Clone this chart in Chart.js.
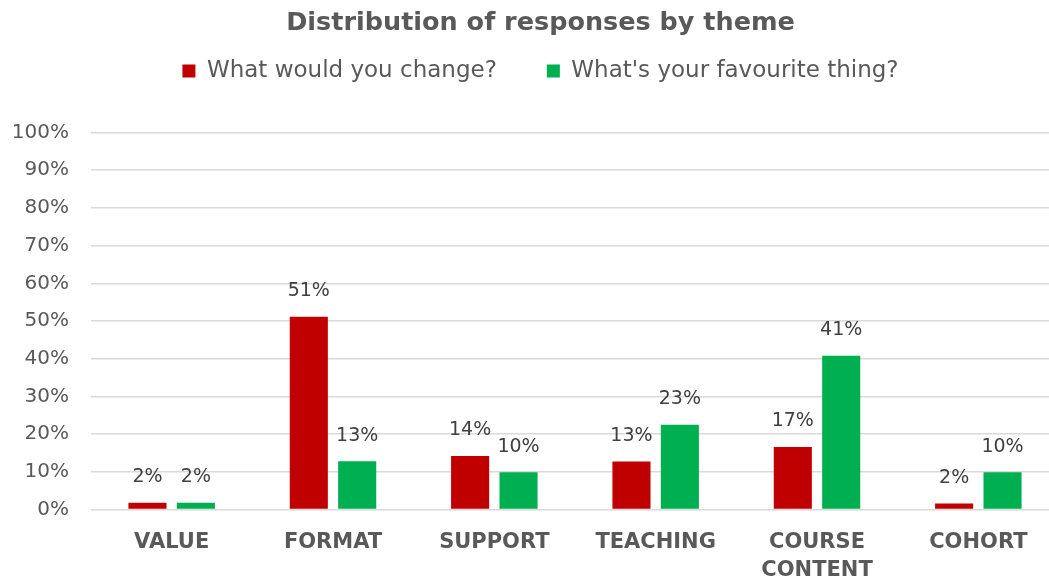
<!DOCTYPE html>
<html>
<head>
<meta charset="utf-8">
<script src="https://cdn.jsdelivr.net/npm/chart.js@4.4.1/dist/chart.umd.min.js"></script>
<style>
  html, body { margin: 0; padding: 0; background: #ffffff; overflow: hidden; }
  #wrap { width: 1081px; height: 579px; }
</style>
</head>
<body>
<div id="wrap"><canvas id="c" width="1081" height="579"></canvas></div>
<script>
const categories = ['VALUE', 'FORMAT', 'SUPPORT', 'TEACHING', ['COURSE', 'CONTENT'], 'COHORT'];
const changeValues = [1.8, 51.1, 14.2, 12.7, 16.6, 1.6];
const favouriteValues = [1.8, 12.8, 9.9, 22.5, 40.8, 9.9];
const yTickLabels = ['0%', '10%', '20%', '30%', '40%', '50%', '60%', '70%', '80%', '90%', '100%'];
const seriesNames = ['What would you change?', "What's your favourite thing?"];

const FONT = "'DejaVu Sans', 'Open Sans', sans-serif";

const valueLabels = {
  id: 'valueLabels',
  afterDatasetsDraw(chart) {
    const ctx = chart.ctx;
    ctx.save();
    ctx.font = '19px ' + FONT;
    ctx.fillStyle = '#404040';
    ctx.textAlign = 'center';
    ctx.textBaseline = 'middle';
    chart.data.datasets.forEach((ds, di) => {
      const meta = chart.getDatasetMeta(di);
      meta.data.forEach((bar, i) => {
        ctx.fillText(Math.round(ds.data[i]) + '%', bar.x, bar.y - 25.5);
      });
    });
    ctx.restore();
  }
};

const legendHeight = {
  id: 'legendHeight',
  afterInit(chart) {
    const lg = chart.legend;
    if (lg && !lg._patched) {
      const orig = lg.fit.bind(lg);
      lg.fit = function () { orig(); this.height = 123; };
      lg._patched = true;
    }
  }
};

new Chart(document.getElementById('c'), {
  type: 'bar',
  data: {
    labels: categories,
    datasets: [
      { label: seriesNames[0], data: changeValues, backgroundColor: '#C00000' },
      { label: seriesNames[1], data: favouriteValues, backgroundColor: '#00B050' }
    ]
  },
  options: {
    responsive: false,
    animation: false,
    categoryPercentage: 0.6,
    barPercentage: 0.787,
    layout: { padding: 0 },
    plugins: {
      title: {
        display: true,
        text: 'Distribution of responses by theme',
        color: '#595959',
        font: { family: FONT, size: 25.5, weight: 'bold' },
        padding: { top: 8, bottom: -29.1 }
      },
      legend: {
        display: true,
        position: 'top',
        labels: {
          color: '#595959',
          font: { family: FONT, size: 23 },
          boxWidth: 13,
          boxHeight: 13,
          padding: 50
        }
      },
      tooltip: { enabled: false }
    },
    scales: {
      x: {
        grid: { display: false, drawTicks: false },
        border: { display: false },
        ticks: {
          color: '#595959',
          font: { family: FONT, size: 21, weight: 'bold', lineHeight: 1.33 },
          padding: 19,
          maxRotation: 0,
          autoSkip: false
        },
        afterFit(scale) { scale.height = 69.5; }
      },
      y: {
        min: 0,
        max: 100,
        grid: { color: '#d9d9d9', lineWidth: 1.5, drawTicks: false },
        border: { display: false },
        ticks: {
          stepSize: 10,
          color: '#595959',
          font: { family: FONT, size: 20 },
          padding: 22,
          callback: (v) => yTickLabels[Math.round(v / 10)]
        },
        afterFit(scale) { scale.width = 91; }
      },
      yRightSpace: {
        type: 'linear',
        position: 'right',
        display: true,
        grid: { display: false, drawTicks: false },
        border: { display: false },
        ticks: { display: false },
        afterFit(scale) { scale.width = 22; }
      }
    }
  },
  plugins: [valueLabels, legendHeight]
});
</script>
</body>
</html>
